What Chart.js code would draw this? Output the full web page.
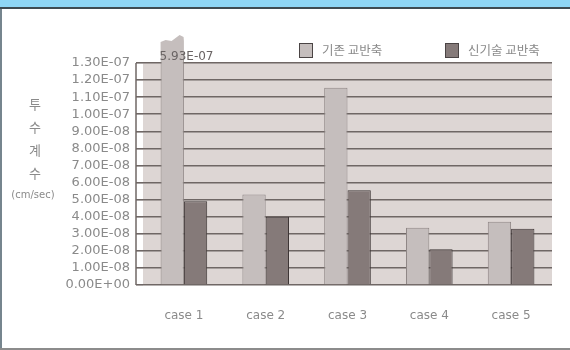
<!DOCTYPE html>
<html>
<head>
<meta charset="utf-8">
<script src="https://cdn.jsdelivr.net/npm/chart.js@4.4.1/dist/chart.umd.min.js"></script>
<style>
  html, body { margin: 0; padding: 0; background: #fff; }
  #wrap { position: relative; width: 570px; height: 350px; overflow: hidden; background: #fff; }
  #c { position: absolute; left: 0; top: 0; }
  .band { position: absolute; left: 0; top: 0; width: 570px; height: 7px; background: #8ed6f5; border-bottom: 2px solid #3e4b52; }
  .lb { position: absolute; left: 0; top: 9px; width: 2px; height: 341px; background: #76858e; }
  .bb { position: absolute; left: 0; top: 348px; width: 570px; height: 2px; background: #8c8c8c; }
</style>
</head>
<body>
<div id="wrap">
  <canvas id="c" width="570" height="350"></canvas>
  <div class="band"></div>
  <div class="lb"></div>
  <div class="bb"></div>
</div>
<script>
// Permeability coefficient per test case
const categories = ['case 1', 'case 2', 'case 3', 'case 4', 'case 5'];
const seriesNames = ['기존 교반축', '신기술 교반축'];
const existingValues = [5.93e-7, 5.3e-8, 1.155e-7, 3.35e-8, 3.7e-8];
const newTechValues = [4.9e-8, 4.0e-8, 5.55e-8, 2.1e-8, 3.3e-8];
const yTickValues = [0, 1e-8, 2e-8, 3e-8, 4e-8, 5e-8, 6e-8, 7e-8, 8e-8, 9e-8, 1.0e-7, 1.1e-7, 1.2e-7, 1.3e-7];
const yTitleChars = ['투', '수', '계', '수'];
const yUnit = '(cm/sec)';

const yMin = yTickValues[0];
const yMax = yTickValues[yTickValues.length - 1];

const FONT = 'DejaVu Sans, sans-serif';
const KFONT = '"Noto Sans CJK KR", sans-serif';
const TEXT = '#8a8a8a';
const GRID = '#6f6765';
const LIGHT = '#c5bebd';
const DARK = '#857a79';

// 1.30E-07 style scientific notation
function sci(v) {
  if (Math.abs(v) < 1e-20) return '0.00E+00';
  const parts = v.toExponential(2).toUpperCase().split('E');
  const n = parseInt(parts[1], 10);
  return parts[0] + 'E' + (n < 0 ? '-' : '+') + String(Math.abs(n)).padStart(2, '0');
}

const plotBackground = {
  id: 'plotBackground',
  beforeDraw(chart) {
    const { ctx, chartArea: a } = chart;
    ctx.save();
    ctx.fillStyle = '#ddd6d4';
    ctx.fillRect(a.left, a.top, a.right - a.left, a.bottom - a.top);
    ctx.restore();
  }
};

const decorations = {
  id: 'decorations',
  afterDatasetsDraw(chart) {
    const { ctx, chartArea: a } = chart;
    // torn top of the off-scale bar and its value label
    const bar = chart.getDatasetMeta(0).data[0];
    const v = chart.data.datasets[0].data[0];
    if (v > yMax) {
      const l = bar.x - bar.width / 2, r = bar.x + bar.width / 2;
      const cut = a.top - 11;
      ctx.save();
      ctx.fillStyle = LIGHT;
      ctx.beginPath();
      ctx.moveTo(l, cut + 1);
      ctx.lineTo(l, 42);
      ctx.lineTo(l + 5, 40);
      ctx.lineTo(l + 11, 41);
      ctx.lineTo(l + 15, 38);
      ctx.lineTo(l + 19, 35);
      ctx.lineTo(l + 23, 37);
      ctx.lineTo(r, 41);
      ctx.lineTo(r, cut + 1);
      ctx.closePath();
      ctx.fill();
      ctx.fillStyle = '#6a6464';
      ctx.font = '12px ' + FONT;
      ctx.textAlign = 'left';
      ctx.textBaseline = 'middle';
      ctx.fillText(sci(v), l - 1, 57);
      ctx.restore();
    }
  },
  afterDraw(chart) {
    const { ctx, chartArea: a } = chart;
    ctx.save();
    // y axis bracket line
    ctx.strokeStyle = GRID;
    ctx.lineWidth = 1.5;
    ctx.beginPath();
    ctx.moveTo(a.left - 7, a.top);
    ctx.lineTo(a.left - 7, a.bottom);
    ctx.stroke();

    // stacked y axis title
    ctx.fillStyle = TEXT;
    ctx.textAlign = 'center';
    ctx.textBaseline = 'middle';
    ctx.font = '13px ' + KFONT;
    yTitleChars.forEach((ch, i) => ctx.fillText(ch, 35, 104 + i * 23));
    ctx.font = '10px ' + FONT;
    ctx.fillText(yUnit, 33, 195);

    // legend
    const pos = [{ box: 299, text: 322 }, { box: 445, text: 468 }];
    chart.data.datasets.forEach((ds, i) => {
      const p = pos[i];
      ctx.fillStyle = ds.backgroundColor;
      ctx.fillRect(p.box, 43, 14, 15);
      ctx.strokeStyle = '#4a4444';
      ctx.lineWidth = 1;
      ctx.strokeRect(p.box + 0.5, 43.5, 13, 14);
      ctx.fillStyle = TEXT;
      ctx.font = '12.5px ' + KFONT;
      ctx.textAlign = 'left';
      ctx.fillText(ds.label, p.text, 50);
    });
    ctx.restore();
  }
};

new Chart(document.getElementById('c'), {
  type: 'bar',
  data: {
    labels: categories,
    datasets: [
      {
        label: seriesNames[0],
        data: existingValues,
        backgroundColor: LIGHT,
        borderColor: '#8f8786',
        borderWidth: 1,
        clip: { left: 0, top: 11, right: 0, bottom: 0 }
      },
      {
        label: seriesNames[1],
        data: newTechValues,
        backgroundColor: DARK,
        borderColor: '#3d3636',
        borderWidth: 1
      }
    ]
  },
  options: {
    responsive: false,
    animation: false,
    devicePixelRatio: 1,
    categoryPercentage: 0.57,
    barPercentage: 1.0,
    layout: { padding: { left: 0, right: 18, top: 63, bottom: 25 } },
    plugins: { legend: { display: false }, tooltip: { enabled: false } },
    scales: {
      x: {
        grid: { display: false, drawTicks: false },
        border: { display: false },
        ticks: { color: TEXT, font: { family: FONT, size: 12 }, padding: 24 },
        afterFit(s) { s.height = 40; }
      },
      y: {
        min: yMin,
        max: yMax,
        afterBuildTicks(s) { s.ticks = yTickValues.map((v) => ({ value: v })); },
        ticks: {
          autoSkip: false,
          color: TEXT,
          font: { family: FONT, size: 13 },
          padding: 6,
          callback: (v) => sci(v)
        },
        grid: { color: GRID, lineWidth: 1.6, tickLength: 7, drawTicks: true },
        border: { display: false },
        afterFit(s) { s.width = 143; }
      }
    }
  },
  plugins: [plotBackground, decorations]
});
</script>
</body>
</html>
